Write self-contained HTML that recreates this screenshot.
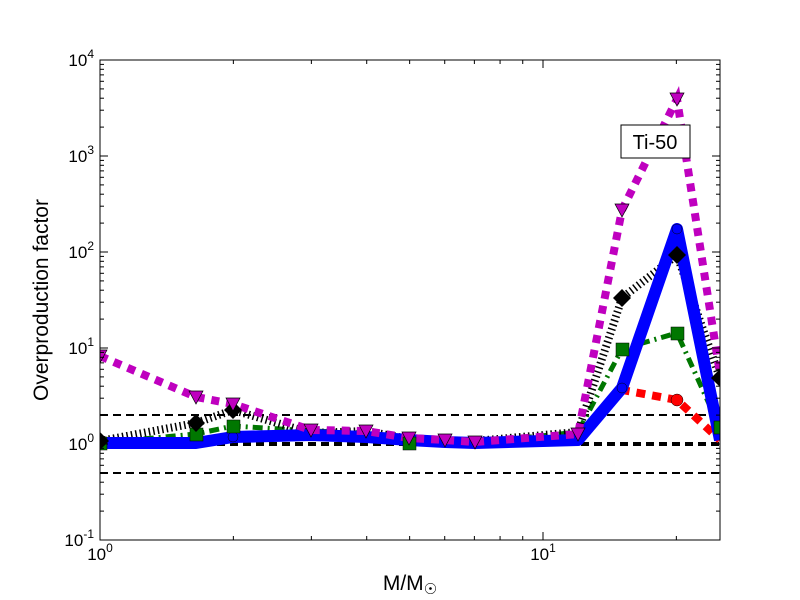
<!DOCTYPE html>
<html><head><meta charset="utf-8"><style>body{margin:0;background:#fff}svg{display:block}text{font-family:"Liberation Sans",sans-serif}</style></head><body>
<svg width="800" height="600" xmlns="http://www.w3.org/2000/svg">
<rect width="800" height="600" fill="#fff"/>
<defs><clipPath id="c"><rect x="100" y="60" width="620" height="480"/></clipPath></defs>
<g clip-path="url(#c)">
<g stroke="#000" stroke-width="2" stroke-dasharray="8 5" fill="none">
<line x1="100" y1="415" x2="720" y2="415"/><line x1="100" y1="473" x2="720" y2="473"/>
<line x1="100" y1="444" x2="720" y2="444" stroke-width="4"/>
</g>
<polyline fill="none" stroke="#ff0000" stroke-width="8" stroke-dasharray="9 7" points="100,443 196,443 233,437 311,435 366,437 409,440 445,442 475,443 578,440 622,390 677,400 720,440"/>
<polyline fill="none" stroke="#007700" stroke-width="5" stroke-dasharray="10 5 2 5" points="100,443 196,434 233,426 311,431 366,433 409,443 445,441 475,443 578,432 622,349 677,333 720,428"/>
<polyline fill="none" stroke="#000" stroke-width="8" stroke-dasharray="1.5 3" points="100,441 196,423 233,410 311,433 366,431 409,439 445,442 475,441 578,432 622,298 677,255 720,378"/>
<polyline fill="none" stroke="#0000ff" stroke-width="12" stroke-linejoin="round" points="100,443 196,443 233,437 311,435 366,437 409,440 445,442 475,443 578,440 622,388 677,229 720,440"/>
<polyline fill="none" stroke="#bf00bf" stroke-width="8" stroke-dasharray="8 7" points="100,356 196,397 233,404 311,430 366,431 409,438 445,440 475,442 578,434 622,210 677,99 720,374"/>
<g fill="#0000ff" stroke="#000" stroke-width="0.5"><circle cx="622" cy="388" r="5"/><circle cx="677" cy="229" r="5"/><circle cx="233" cy="437" r="5"/></g>
<g fill="#ff0000" stroke="#000" stroke-width="0.5"><circle cx="677" cy="400" r="6"/></g>
<g fill="#007700" stroke="#000" stroke-width="0.5">
<rect x="190" y="428" width="13" height="13"/><rect x="227" y="420" width="13" height="13"/><rect x="616" y="343" width="13" height="13"/><rect x="671" y="327" width="13" height="13"/><rect x="403" y="437" width="13" height="13"/><rect x="714" y="421" width="13" height="13"/><rect x="94" y="437" width="13" height="13"/></g>
<g fill="#000">
<polygon points="196,414 205,423 196,432 187,423"/><polygon points="233,401 242,410 233,419 224,410"/><polygon points="622,289 631,298 622,307 613,298"/><polygon points="677,246 686,255 677,264 668,255"/><polygon points="100,432 109,441 100,450 91,441"/><polygon points="720,369 729,378 720,387 711,378"/></g>
<g fill="#bf00bf" stroke="#000" stroke-width="0.7">
<polygon points="189,391 203,391 196,404"/><polygon points="226,398 240,398 233,411"/><polygon points="615,204 629,204 622,217"/><polygon points="670,93 684,93 677,106"/><polygon points="304,424 318,424 311,437"/><polygon points="359,425 373,425 366,438"/><polygon points="402,432 416,432 409,445"/><polygon points="438,434 452,434 445,447"/><polygon points="468,436 482,436 475,449"/><polygon points="571,428 585,428 578,441"/><polygon points="93,350 107,350 100,363"/></g>
</g>
<rect x="100" y="60" width="620" height="480" fill="none" stroke="#000" stroke-width="1"/>
<g stroke="#000" stroke-width="1" id="t">
<line x1="543" y1="540" x2="543" y2="532"/><line x1="543" y1="60" x2="543" y2="68"/>
<line x1="100" y1="156" x2="108" y2="156"/><line x1="100" y1="252" x2="108" y2="252"/><line x1="100" y1="348" x2="108" y2="348"/><line x1="100" y1="444" x2="108" y2="444"/>
<line x1="720" y1="156" x2="712" y2="156"/><line x1="720" y1="252" x2="712" y2="252"/><line x1="720" y1="348" x2="712" y2="348"/><line x1="720" y1="444" x2="712" y2="444"/>
</g>
<g font-size="17" fill="#000">
<text x="100" y="560" text-anchor="middle">10<tspan dy="-8" font-size="12">0</tspan></text>
<text x="543" y="560" text-anchor="middle">10<tspan dy="-8" font-size="12">1</tspan></text>
<text x="94" y="66" text-anchor="end">10<tspan dy="-8" font-size="12">4</tspan></text>
<text x="94" y="162" text-anchor="end">10<tspan dy="-8" font-size="12">3</tspan></text>
<text x="94" y="258" text-anchor="end">10<tspan dy="-8" font-size="12">2</tspan></text>
<text x="94" y="354" text-anchor="end">10<tspan dy="-8" font-size="12">1</tspan></text>
<text x="94" y="450" text-anchor="end">10<tspan dy="-8" font-size="12">0</tspan></text>
<text x="94" y="546" text-anchor="end">10<tspan dy="-8" font-size="12">-1</tspan></text>
</g>
<text x="410" y="590" font-size="21" text-anchor="middle">M/M<tspan font-size="15" dy="4">☉</tspan></text>
<text transform="translate(48,300) rotate(-90)" font-size="21" text-anchor="middle">Overproduction factor</text>
<rect x="621" y="125" width="69" height="33" fill="#fff" stroke="#000"/>
<text x="655" y="149" font-size="20" text-anchor="middle">Ti-50</text>
</svg>
<script>
(function(){var g=document.getElementById('t'),ns='http://www.w3.org/2000/svg';
function L(a,b,c,d){var l=document.createElementNS(ns,'line');l.setAttribute('x1',a);l.setAttribute('y1',b);l.setAttribute('x2',c);l.setAttribute('y2',d);g.appendChild(l);}
for(var k=2;k<=25;k++){if(k==10)continue;if(k>10&&k%10)continue;var v=k<10?k:k;var x=100+443*Math.log10(v);if(k>10)continue;L(x,540,x,536);L(x,60,x,64);}
[20].forEach(function(v){var x=100+443*Math.log10(v);L(x,540,x,536);L(x,60,x,64);});
for(var d=-1;d<4;d++)for(var m=2;m<10;m++){var y=444-96*(d+Math.log10(m));L(100,y,104,y);L(720,y,716,y);}
})();
</script>
</body></html>
